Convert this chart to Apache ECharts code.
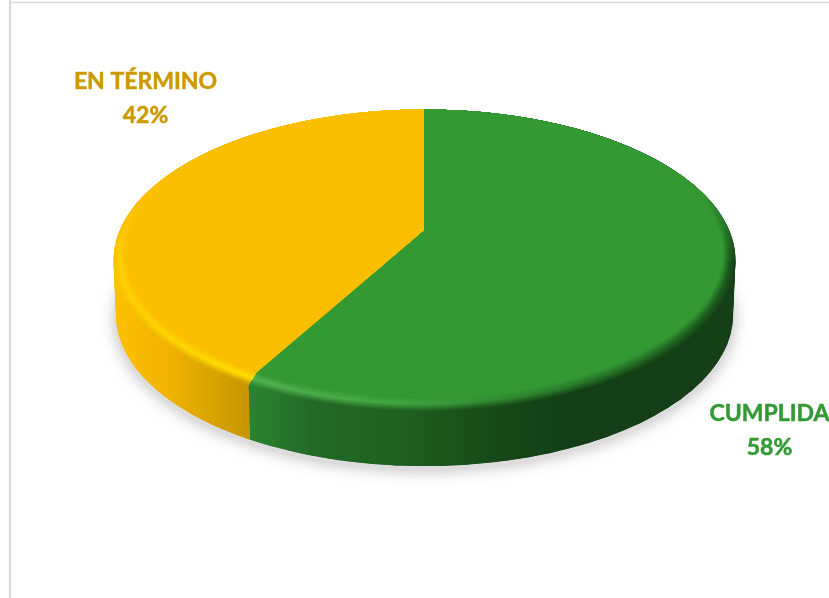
<!DOCTYPE html>
<html>
<head>
<meta charset="utf-8">
<style>html,body{margin:0;padding:0;background:#fff}#c{width:829px;height:598px}</style>
<script src="https://cdn.jsdelivr.net/npm/echarts@6/dist/echarts.min.js"></script>
</head>
<body>
<div id="c"></div>
<script>
var categories = ['EN TÉRMINO', 'CUMPLIDA'];
var values = [42, 58];

var total = values.reduce(function (a, b) { return a + b; }, 0);
var CX = 424.5, CY = 232.5, A = 305.6, B = 145.8, K = 0.185, WALL = 54.7, WALL_SHRINK = 0.992, BEVEL = 0.968;

var looks = [
  {
    label: '#cc9900', labelPos: [145.5, 82, 115.5],
    wall: [[114, '#fdc100'], [170, '#f0b200'], [215, '#d8a200'], [256, '#c49204']],
    mid: [[114, '#ffd000'], [170, '#ffd400'], [215, '#ffda00'], [256, '#ffe000']],
    inner: '#fcbf00'
  },
  {
    label: '#339933', labelPos: [769.5, 414, 447.5],
    wall: [[250, '#2b832f'], [310, '#246a27'], [400, '#1f5f20'], [500, '#174818'], [570, '#143e15'], [736, '#153f16']],
    mid: [[250, '#52b452'], [310, '#4aae4a'], [400, '#40a640'], [500, '#2f8a30'], [570, '#27792a'], [736, '#1c5a1e']],
    inner: '#339933'
  }
];

function point(theta, r) {
  var u = r * Math.sin(theta), v = -r * Math.cos(theta) - (1 - r), w = 1 - K * v;
  return [CX + A * u / w, CY + B * v / w];
}
function arc(a0, a1, r, n) {
  var out = [];
  for (var i = 0; i <= n; i++) out.push(point(a0 + (a1 - a0) * i / n, r));
  return out;
}
function lower(p) {
  return [CX + (p[0] - CX) * WALL_SHRINK, p[1] + WALL];
}
function angles(idx) {
  var before = 0;
  for (var i = idx + 1; i < values.length; i++) before += values[i];
  var a0 = before / total * Math.PI * 2;
  return [a0, a0 + values[idx] / total * Math.PI * 2];
}
function hex(c) { return [parseInt(c.substr(1, 2), 16), parseInt(c.substr(3, 2), 16), parseInt(c.substr(5, 2), 16)]; }
function mix(a, b, t) {
  var x = hex(a), y = hex(b);
  return [0, 1, 2].map(function (i) { return Math.round(x[i] + (y[i] - x[i]) * t); });
}
function css(rgb) { return 'rgb(' + rgb.join(',') + ')'; }
function gradient(stops) {
  var x0 = stops[0][0], x1 = stops[stops.length - 1][0];
  return {
    type: 'linear', global: true, x: x0, y: 0, x2: x1, y2: 0,
    colorStops: stops.map(function (s) { return { offset: (s[0] - x0) / (x1 - x0), color: s[1] }; })
  };
}
function ringFill(look, t) {
  var stops = look.wall.map(function (s, i) {
    var m = look.mid[i][1];
    var c = t < 0.5 ? mix(s[1], m, t * 2) : mix(m, look.inner, (t - 0.5) * 2);
    return [s[0], css(c)];
  });
  return gradient(stops);
}
function backFade(color) {
  var c = hex(color).join(',');
  return {
    type: 'linear', global: true, x: 0, y: 195, x2: 0, y2: 262,
    colorStops: [
      { offset: 0, color: 'rgba(' + c + ',1)' },
      { offset: 1, color: 'rgba(' + c + ',0)' }
    ]
  };
}

function renderBase(params, api) {
  var idx = params.dataIndex, ang = angles(idx), look = looks[idx];
  var top = arc(ang[0], ang[1], 1, 120);
  var fill = gradient(look.wall);
  var children = [{
    type: 'polygon',
    shape: { points: top.concat(top.map(lower).reverse()) },
    style: { fill: fill }
  }];
  // side sweep: fills the silhouette where the rim turns back on itself
  for (var i = 0; i + 6 < top.length; i += 2) {
    children.push({
      type: 'polygon',
      shape: { points: [top[i], top[i + 6], lower(top[i + 6]), lower(top[i])] },
      style: { fill: fill }
    });
  }
  return { type: 'group', children: children };
}
function renderTop(params, api) {
  var idx = params.dataIndex, ang = angles(idx), look = looks[idx];
  var children = [];
  var N = 18;
  var vertex = [CX, CY - 2];
  for (var i = 0; i < N; i++) {
    var t = i / N, r = 1 - (1 - BEVEL) * t;
    children.push({
      type: 'polygon',
      shape: { points: [vertex].concat(arc(ang[0], ang[1], r, 160)) },
      style: { fill: ringFill(look, t) }
    });
  }
  children.push({
    type: 'polygon',
    shape: { points: [vertex].concat(arc(ang[0], ang[1], 1, 160)) },
    style: { fill: backFade(look.inner) }
  });
  children.push({
    type: 'polygon',
    shape: { points: [vertex].concat(arc(ang[0], ang[1], BEVEL, 160)) },
    style: { fill: look.inner }
  });
  var lp = look.labelPos;
  var pct = Math.round(api.value(1) / total * 100) + '%';
  var font = 'bold 23px Lato, "Open Sans", sans-serif';
  children.push({
    type: 'text',
    style: { x: lp[0], y: lp[1], text: categories[idx], fill: look.label, stroke: look.label, lineWidth: 0.5, font: font, textAlign: 'center', textVerticalAlign: 'middle' }
  });
  children.push({
    type: 'text',
    style: { x: lp[0], y: lp[2], text: pct, fill: look.label, stroke: look.label, lineWidth: 0.5, font: font, textAlign: 'center', textVerticalAlign: 'middle' }
  });
  return { type: 'group', children: children };
}
function renderShadow(params, api) {
  if (params.dataIndex !== 0) return null;
  var rim = arc(0, Math.PI * 2, 1, 200).map(lower).map(function (p) {
    return [CX + (p[0] - CX) * 1.002, p[1] + 4];
  });
  return {
    type: 'polygon',
    shape: { points: rim },
    style: { fill: '#dcdcdc', shadowBlur: 16, shadowColor: 'rgba(140,140,140,0.6)' }
  };
}

var rows = categories.map(function (c, i) { return [i, values[i]]; });
var chart = echarts.init(document.getElementById('c'), null, { renderer: 'canvas', width: 829, height: 598 });
chart.setOption({
  animation: false,
  backgroundColor: '#ffffff',
  graphic: [
    { type: 'line', silent: true, shape: { x1: 10, y1: 0, x2: 10, y2: 598 }, style: { stroke: '#d9d9d9', lineWidth: 2 } },
    { type: 'line', silent: true, shape: { x1: 9, y1: 2.5, x2: 829, y2: 2.5 }, style: { stroke: '#d9d9d9', lineWidth: 1.5 } }
  ],
  series: [
    { type: 'custom', coordinateSystem: 'none', data: rows, renderItem: renderShadow, silent: true, z: 1 },
    { type: 'custom', coordinateSystem: 'none', data: rows, renderItem: renderBase, silent: true, z: 2 },
    { type: 'custom', coordinateSystem: 'none', data: rows, renderItem: renderTop, silent: true, z: 3 }
  ]
});
</script>
</body>
</html>
